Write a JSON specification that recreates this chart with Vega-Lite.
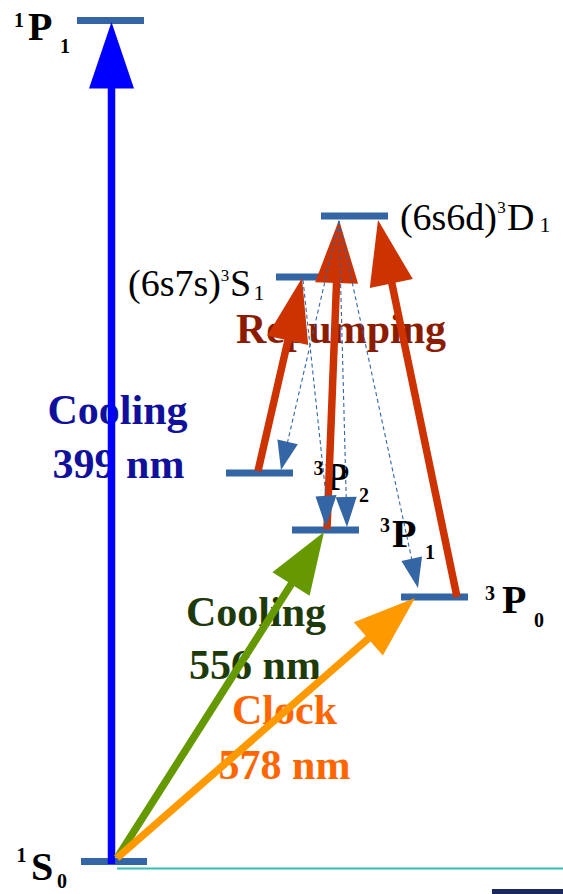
{
  "$schema": "https://vega.github.io/schema/vega-lite/v6.json",
  "width": 563,
  "height": 894,
  "autosize": {"type": "none"},
  "padding": 0,
  "background": "white",
  "config": {"view": {"stroke": null}},
  "datasets": {
    "levels": [
      {"state": "1P1", "x": 77, "x2": 144, "y": 20.5},
      {"state": "(6s6d)3D1", "x": 321, "x2": 388, "y": 216},
      {"state": "(6s7s)3S1", "x": 276, "x2": 342, "y": 277},
      {"state": "3P2", "x": 226, "x2": 293, "y": 473},
      {"state": "3P1", "x": 292, "x2": 359, "y": 530},
      {"state": "3P0", "x": 401, "x2": 468, "y": 597},
      {"state": "1S0", "x": 81, "x2": 147, "y": 861.5}
    ],
    "baseline": [
      {"group": "cyan", "x": 117, "x2": 563, "y": 868.5}
    ],
    "corner": [
      {"group": "navy", "x": 492, "x2": 563, "y": 889, "y2": 894}
    ],
    "shafts": [
      {"id": "399", "group": "399", "x": 111.5, "y": 864, "x2": 111.5, "y2": 86},
      {"id": "556", "group": "556", "x": 117, "y": 858, "x2": 292, "y2": 583},
      {"id": "578", "group": "578", "x": 117, "y": 858, "x2": 369, "y2": 638},
      {"id": "repA", "group": "repump", "x": 258, "y": 471, "x2": 288.5, "y2": 338},
      {"id": "repB", "group": "repump", "x": 327, "y": 529, "x2": 336.6, "y2": 281},
      {"id": "repC", "group": "repump", "x": 457, "y": 597, "x2": 391.6, "y2": 282}
    ],
    "decays": [
      {"id": "decA", "group": "decay", "x": 339, "y": 221, "x2": 287.6, "y2": 442},
      {"id": "decB", "group": "decay", "x": 303, "y": 280, "x2": 326, "y2": 496},
      {"id": "decC", "group": "decay", "x": 339, "y": 221, "x2": 346.2, "y2": 497},
      {"id": "decD", "group": "decay", "x": 339, "y": 221, "x2": 411.7, "y2": 559}
    ],
    "heads": [
      {"id": "399", "group": "399", "v": 0, "x": 111.5, "y": 22},
      {"id": "399", "group": "399", "v": 1, "x": 89, "y": 88.5},
      {"id": "399", "group": "399", "v": 2, "x": 134, "y": 88.5},
      {"id": "556", "group": "556", "v": 0, "x": 324, "y": 532},
      {"id": "556", "group": "556", "v": 1, "x": 309.6, "y": 595.8},
      {"id": "556", "group": "556", "v": 2, "x": 272.4, "y": 572.2},
      {"id": "578", "group": "578", "v": 0, "x": 415, "y": 598},
      {"id": "578", "group": "578", "v": 1, "x": 382.8, "y": 655.4},
      {"id": "578", "group": "578", "v": 2, "x": 353.8, "y": 622.2},
      {"id": "repA", "group": "repump", "v": 0, "x": 302, "y": 278},
      {"id": "repA", "group": "repump", "v": 1, "x": 308.2, "y": 345.1},
      {"id": "repA", "group": "repump", "v": 2, "x": 267.2, "y": 335.7},
      {"id": "repB", "group": "repump", "v": 0, "x": 339, "y": 220},
      {"id": "repB", "group": "repump", "v": 1, "x": 358.1, "y": 283.8},
      {"id": "repB", "group": "repump", "v": 2, "x": 315.1, "y": 282.2},
      {"id": "repC", "group": "repump", "v": 0, "x": 378, "y": 220},
      {"id": "repC", "group": "repump", "v": 1, "x": 412.8, "y": 279.1},
      {"id": "repC", "group": "repump", "v": 2, "x": 369.8, "y": 288.1},
      {"id": "decA", "group": "decay", "v": 0, "x": 281, "y": 470},
      {"id": "decA", "group": "decay", "v": 1, "x": 297.8, "y": 444.2},
      {"id": "decA", "group": "decay", "v": 2, "x": 277.4, "y": 439.4},
      {"id": "decB", "group": "decay", "v": 0, "x": 326, "y": 527},
      {"id": "decB", "group": "decay", "v": 1, "x": 336.5, "y": 495},
      {"id": "decB", "group": "decay", "v": 2, "x": 315.5, "y": 496.5},
      {"id": "decC", "group": "decay", "v": 0, "x": 347, "y": 527},
      {"id": "decC", "group": "decay", "v": 1, "x": 356.7, "y": 496.7},
      {"id": "decC", "group": "decay", "v": 2, "x": 335.7, "y": 497.3},
      {"id": "decD", "group": "decay", "v": 0, "x": 418, "y": 588},
      {"id": "decD", "group": "decay", "v": 1, "x": 422, "y": 556.5},
      {"id": "decD", "group": "decay", "v": 2, "x": 401.4, "y": 560.9}
    ],
    "captions": [
      {"text": "Cooling", "group": "t399", "x": 117.5, "y": 424},
      {"text": "399 nm", "group": "t399", "x": 118.5, "y": 478},
      {"text": "Repumping", "group": "trep", "x": 341, "y": 343},
      {"text": "Cooling", "group": "t556", "x": 256, "y": 626},
      {"text": "556 nm", "group": "t556", "x": 255, "y": 679},
      {"text": "Clock", "group": "t578", "x": 284.5, "y": 724},
      {"text": "578 nm", "group": "t578", "x": 284.5, "y": 779}
    ],
    "termLetters": [
      {"text": "P", "x": 28, "y": 40},
      {"text": "S", "x": 31, "y": 880},
      {"text": "P", "x": 325, "y": 490},
      {"text": "P", "x": 392, "y": 547},
      {"text": "P", "x": 502, "y": 613}
    ],
    "termDigits": [
      {"text": "1", "x": 19, "y": 27},
      {"text": "1", "x": 65, "y": 53},
      {"text": "1", "x": 21.5, "y": 862},
      {"text": "0", "x": 62, "y": 888},
      {"text": "3", "x": 318.5, "y": 475},
      {"text": "2", "x": 364, "y": 502},
      {"text": "3", "x": 385, "y": 532},
      {"text": "1", "x": 430, "y": 559},
      {"text": "3", "x": 490, "y": 600},
      {"text": "0", "x": 539, "y": 627}
    ],
    "configText": [
      {"text": "(6s6d)", "x": 497, "y": 230},
      {"text": "(6s7s)", "x": 221, "y": 296}
    ],
    "configLetters": [
      {"text": "D", "x": 507, "y": 230},
      {"text": "S", "x": 230, "y": 296}
    ],
    "configDigits": [
      {"text": "3", "pos": "sup", "x": 501.5, "y": 213},
      {"text": "1", "pos": "sub", "x": 545, "y": 232},
      {"text": "3", "pos": "sup", "x": 225, "y": 281},
      {"text": "1", "pos": "sub", "x": 259, "y": 300}
    ]
  },
  "layer": [
    {
      "data": {"name": "levels"},
      "mark": {"type": "rule", "strokeWidth": 7, "color": "#3465a4"},
      "encoding": {
        "x": {"field": "x", "type": "quantitative", "scale": {"domain": [0, 563], "nice": false, "zero": false}, "axis": null},
        "x2": {"field": "x2"},
        "y": {"field": "y", "type": "quantitative", "scale": {"domain": [0, 894], "reverse": true, "nice": false, "zero": false}, "axis": null}
      }
    },
    {
      "data": {"name": "baseline"},
      "mark": {"type": "rule", "strokeWidth": 2, "color": "#33bfb7"},
      "encoding": {
        "x": {"field": "x", "type": "quantitative", "axis": null},
        "x2": {"field": "x2"},
        "y": {"field": "y", "type": "quantitative", "axis": null}
      }
    },
    {
      "data": {"name": "corner"},
      "mark": {"type": "rect", "color": "#1b2a5e"},
      "encoding": {
        "x": {"field": "x", "type": "quantitative", "axis": null},
        "x2": {"field": "x2"},
        "y": {"field": "y", "type": "quantitative", "axis": null},
        "y2": {"field": "y2"}
      }
    },
    {
      "data": {"name": "captions"},
      "mark": {"type": "text", "font": "Liberation Serif, DejaVu Serif, serif", "fontWeight": "bold", "fontSize": 42, "align": "center", "baseline": "alphabetic"},
      "encoding": {
        "x": {"field": "x", "type": "quantitative", "axis": null},
        "y": {"field": "y", "type": "quantitative", "axis": null},
        "text": {"field": "text"},
        "color": {"field": "group", "type": "nominal", "legend": null,
          "scale": {"domain": ["399", "556", "578", "repump", "decay", "t399", "t556", "t578", "trep"],
                    "range": ["#0000ff", "#669900", "#ff9900", "#cc3300", "#3465a4", "#10109c", "#1f3a0a", "#ff6600", "#8b1c00"]}}
      }
    },
    {
      "data": {"name": "termLetters"},
      "mark": {"type": "text", "font": "Liberation Serif, DejaVu Serif, serif", "fontWeight": "bold", "fontSize": 40, "align": "left", "baseline": "alphabetic", "color": "#000000"},
      "encoding": {
        "x": {"field": "x", "type": "quantitative", "axis": null},
        "y": {"field": "y", "type": "quantitative", "axis": null},
        "text": {"field": "text"}
      }
    },
    {
      "data": {"name": "termDigits"},
      "mark": {"type": "text", "font": "Liberation Serif, DejaVu Serif, serif", "fontWeight": "bold", "fontSize": 20, "align": "center", "baseline": "alphabetic", "color": "#000000"},
      "encoding": {
        "x": {"field": "x", "type": "quantitative", "axis": null},
        "y": {"field": "y", "type": "quantitative", "axis": null},
        "text": {"field": "text"}
      }
    },
    {
      "data": {"name": "configText"},
      "mark": {"type": "text", "font": "Liberation Serif, DejaVu Serif, serif", "fontSize": 38, "align": "right", "baseline": "alphabetic", "color": "#000000"},
      "encoding": {
        "x": {"field": "x", "type": "quantitative", "axis": null},
        "y": {"field": "y", "type": "quantitative", "axis": null},
        "text": {"field": "text"}
      }
    },
    {
      "data": {"name": "configLetters"},
      "mark": {"type": "text", "font": "Liberation Serif, DejaVu Serif, serif", "fontSize": 38, "align": "left", "baseline": "alphabetic", "color": "#000000"},
      "encoding": {
        "x": {"field": "x", "type": "quantitative", "axis": null},
        "y": {"field": "y", "type": "quantitative", "axis": null},
        "text": {"field": "text"}
      }
    },
    {
      "data": {"name": "configDigits"},
      "mark": {"type": "text", "font": "Liberation Serif, DejaVu Serif, serif", "align": "center", "baseline": "alphabetic", "color": "#000000"},
      "encoding": {
        "x": {"field": "x", "type": "quantitative", "axis": null},
        "y": {"field": "y", "type": "quantitative", "axis": null},
        "text": {"field": "text"},
        "size": {"field": "pos", "type": "nominal", "legend": null, "scale": {"domain": ["sup", "sub"], "range": [17, 22]}}
      }
    },
    {
      "data": {"name": "shafts"},
      "mark": {"type": "rule", "strokeWidth": 7.5},
      "encoding": {
        "x": {"field": "x", "type": "quantitative", "axis": null},
        "y": {"field": "y", "type": "quantitative", "axis": null},
        "x2": {"field": "x2"},
        "y2": {"field": "y2"},
        "color": {"field": "group", "type": "nominal", "legend": null}
      }
    },
    {
      "data": {"name": "heads"},
      "transform": [{"filter": "datum.group !== 'decay'"}],
      "mark": {"type": "line", "filled": true, "interpolate": "linear-closed", "strokeWidth": 0},
      "encoding": {
        "x": {"field": "x", "type": "quantitative", "axis": null},
        "y": {"field": "y", "type": "quantitative", "axis": null},
        "detail": {"field": "id"},
        "order": {"field": "v"},
        "color": {"field": "group", "type": "nominal", "legend": null}
      }
    },
    {
      "data": {"name": "decays"},
      "mark": {"type": "rule", "strokeWidth": 1.1, "strokeDash": [4, 3]},
      "encoding": {
        "x": {"field": "x", "type": "quantitative", "axis": null},
        "y": {"field": "y", "type": "quantitative", "axis": null},
        "x2": {"field": "x2"},
        "y2": {"field": "y2"},
        "color": {"field": "group", "type": "nominal", "legend": null}
      }
    },
    {
      "data": {"name": "heads"},
      "transform": [{"filter": "datum.group === 'decay'"}],
      "mark": {"type": "line", "filled": true, "interpolate": "linear-closed", "strokeWidth": 0},
      "encoding": {
        "x": {"field": "x", "type": "quantitative", "axis": null},
        "y": {"field": "y", "type": "quantitative", "axis": null},
        "detail": {"field": "id"},
        "order": {"field": "v"},
        "color": {"field": "group", "type": "nominal", "legend": null}
      }
    }
  ]
}
